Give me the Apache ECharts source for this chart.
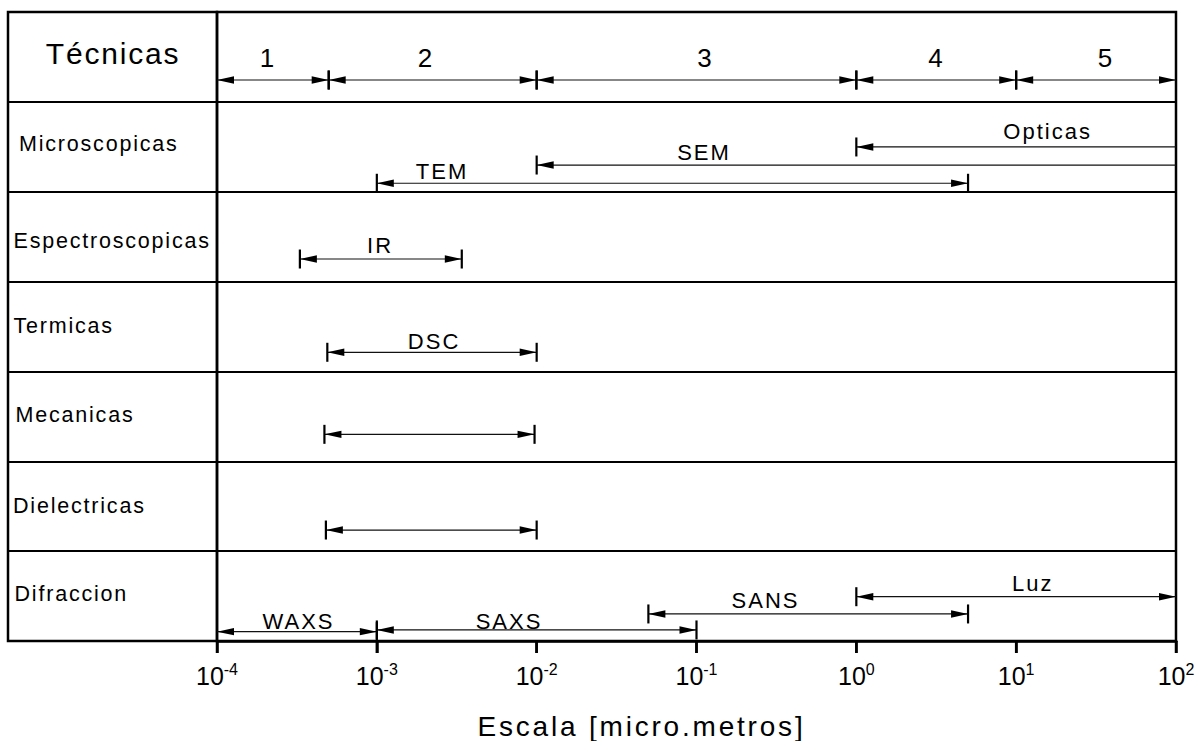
<!DOCTYPE html>
<html><head><meta charset="utf-8">
<script src="https://cdn.jsdelivr.net/npm/echarts@6/dist/echarts.min.js"></script>
<style>html,body{margin:0;padding:0;background:#fff}#main{width:1196px;height:741px}</style>
</head><body><div id="main"></div>
<script>
// ---------------- data ----------------
const headerTitle = 'Técnicas';
const techniques = ['Microscopicas', 'Espectroscopicas', 'Termicas', 'Mecanicas', 'Dielectricas', 'Difraccion'];
const scaleRegions = ['1', '2', '3', '4', '5'];
const regionBounds = [1e-4, 5e-4, 1e-2, 1e0, 1e1, 1e2];
const rangeNames = ['Opticas', 'SEM', 'TEM', 'IR', 'DSC', '', '', 'WAXS', 'SAXS', 'SANS', 'Luz'];
const rangeRow   = [1, 1, 1, 2, 3, 4, 5, 6, 6, 6, 6];
const rangeStart = [1, 1e-2, 1e-3, 3.3e-4, 4.9e-4, 4.7e-4, 4.8e-4, 1e-4, 1e-3, 5e-2, 1];
const rangeEnd   = [1e2, 1e2, 5, 3.4e-3, 1e-2, 9.7e-3, 1e-2, 1e-3, 1e-1, 5, 1e2];
const axisExponents = [-4, -3, -2, -1, 0, 1, 2];
const axisTitle = 'Escala [micro.metros]';

// ---------------- layout / style ----------------
const FONT = '"Liberation Sans", Arial, sans-serif';
const rangeLane = [0.502, 0.703, 0.906, 0.749, 0.787, 0.70, 0.765, 0.896, 0.877, 0.699, 0.507];
const rangeCaps = [['bar','open'],['bar','open'],['bar','bar'],['bar','bar'],['bar','bar'],['bar','bar'],['bar','bar'],['arrow','bar'],['bar','bar'],['bar','bar'],['bar','arrow']];
const labelLogX = [1.197, -0.953, -2.592, -2.98, -2.642, 0, 0, -3.49, -2.173, -0.568, 1.104];
const labelLane = [0.335, 0.569, 0.775, 0.598, 0.667, 0, 0, 0.783, 0.778, 0.544, 0.36];
const headerLane = 0.757;
const regionLabelLogX = [-3.687, -2.699, -0.95, 0.495, 1.556];
const regionLabelLane = 0.517;
const rowLabelX = [11, 5.5, 5.5, 7.5, 5, 6.5];
const rowLabelLane = [0.474, 0.548, 0.494, 0.49, 0.497, 0.477];
const headerTitleX = 105, headerTitleLane = 0.467;
const BAR = 9.5, AL = 17, AW = 3.7;

// build items
const items = [];
scaleRegions.forEach((r, i) => {
  items.push({start: regionBounds[i], end: regionBounds[i + 1], y: headerLane,
    caps: [i === 0 ? 'arrow' : 'bar', i === scaleRegions.length - 1 ? 'arrow' : 'bar'],
    label: r, lx: regionLabelLogX[i], ly: regionLabelLane, fs: 26});
});
rangeNames.forEach((n, i) => {
  items.push({start: rangeStart[i], end: rangeEnd[i], y: rangeRow[i] + rangeLane[i],
    caps: rangeCaps[i], label: n, lx: labelLogX[i], ly: rangeRow[i] + labelLane[i], fs: 22});
});
const rangeData = items.map((it, i) => [it.start, it.end, it.y, i]);
const tickData = axisExponents.map(e => [Math.pow(10, e), 0]);

function addCap(ch, p, kind, dir) {
  if (kind === 'open') return;
  const x = p[0], y = p[1];
  if (kind === 'bar') ch.push({type: 'line', shape: {x1: x, y1: y - BAR, x2: x, y2: y + BAR}, style: {stroke: '#000', lineWidth: 2.2}});
  ch.push({type: 'polygon', shape: {points: [[x, y], [x + dir * AL, y - AW], [x + dir * AL, y + AW]]}, style: {fill: '#000'}});
}
function renderRange(params, api) {
  const it = items[api.value(3)];
  const y = api.value(2);
  const p1 = api.coord([api.value(0), y]);
  const p2 = api.coord([api.value(1), y]);
  const ch = [{type: 'line', shape: {x1: p1[0], y1: p1[1], x2: p2[0], y2: p2[1]}, style: {stroke: '#111', lineWidth: 1.2}}];
  addCap(ch, p1, it.caps[0], 1);
  addCap(ch, p2, it.caps[1], -1);
  if (it.label) {
    const lp = api.coord([Math.pow(10, it.lx), it.ly]);
    ch.push({type: 'text', x: lp[0], y: lp[1], style: {text: it.label, fontSize: it.fs, fontFamily: FONT, fill: '#000', align: 'center', verticalAlign: 'middle'}});
  }
  return {type: 'group', children: ch};
}
function renderTick(params, api) {
  const p0 = api.coord([api.value(0), 0]);
  const p1 = api.coord([api.value(0), 1]);
  return {type: 'line', shape: {x1: p0[0], y1: p0[1] - 1, x2: p1[0], y2: p1[1]}, style: {stroke: '#000', lineWidth: 2.5}};
}

const leftData = techniques.map((t, i) => [rowLabelX[i], i + 1 + rowLabelLane[i], i]);
leftData.push([headerTitleX, headerTitleLane, -1]);
function renderLeft(params, api) {
  const idx = api.value(2);
  const p = api.coord([api.value(0), api.value(1)]);
  if (idx < 0) {
    return {type: 'text', x: p[0], y: p[1], style: {text: headerTitle, fontSize: 30, fontFamily: FONT, fill: '#000', align: 'center', verticalAlign: 'middle'}};
  }
  return {type: 'text', x: p[0], y: p[1], style: {text: techniques[idx], fontSize: 21.5, fontFamily: FONT, fill: '#000', align: 'left', verticalAlign: 'middle'}};
}

const chart = echarts.init(document.getElementById('main'), null, {renderer: 'svg'});
const yAxisBase = {type: 'value', min: 0, max: 7, interval: 1, inverse: true,
  axisLine: {show: false}, axisTick: {show: false}, axisLabel: {show: false},
  splitLine: {show: true, lineStyle: {color: '#000', width: 2.2}}};
chart.setOption({
  animation: false,
  backgroundColor: '#fff',
  grid: [
    {left: 217, right: 20, top: 12, bottom: 100, show: true, borderColor: '#000', borderWidth: 2.5, outerBoundsMode: 'none', containLabel: false},
    {left: 8, width: 209, top: 12, bottom: 100, show: true, borderColor: '#000', borderWidth: 2.5, outerBoundsMode: 'none', containLabel: false},
    {left: 217, right: 20, top: 641, height: 12, show: false, outerBoundsMode: 'none', containLabel: false}
  ],
  xAxis: [
    {type: 'log', logBase: 10, min: 1e-4, max: 1e2, interval: 1, splitNumber: 6, gridIndex: 0,
      position: 'bottom',
      axisLine: {show: true, onZero: false, lineStyle: {color: '#000', width: 2.5}},
      axisTick: {show: true, inside: false, length: 12, lineStyle: {color: '#000', width: 2.5}},
      minorTick: {show: false}, splitLine: {show: false},
      axisLabel: {margin: 20, color: '#000',
        formatter: function (v) {
          const e = Math.round(Math.log10(v));
          if (axisExponents.indexOf(e) < 0) return '';
          return '{m|10}{s|' + e + '}';
        },
        rich: {
          m: {fontSize: 25, lineHeight: 25, fontFamily: FONT, color: '#000', padding: [4, 0, 0, 0]},
          s: {fontSize: 16, lineHeight: 16, fontFamily: FONT, color: '#000', verticalAlign: 'top'}
        }},
      name: axisTitle, nameLocation: 'middle', nameGap: 71,
      nameTextStyle: {fontSize: 28, fontFamily: FONT, color: '#000', padding: [0, 110, 0, 0]}
    },
    {type: 'value', min: 0, max: 209, gridIndex: 1, show: false},
    {type: 'log', logBase: 10, min: 1e-4, max: 1e2, gridIndex: 2, show: false}
  ],
  yAxis: [
    Object.assign({gridIndex: 0}, yAxisBase),
    Object.assign({gridIndex: 1}, yAxisBase),
    {type: 'value', min: 0, max: 1, inverse: true, gridIndex: 2, show: false}
  ],
  series: [
    {type: 'custom', xAxisIndex: 0, yAxisIndex: 0, renderItem: renderRange, data: rangeData,
      encode: {x: [0, 1], y: 2}, clip: false, silent: true},
    {type: 'custom', xAxisIndex: 2, yAxisIndex: 2, renderItem: renderTick, data: tickData,
      encode: {x: 0, y: 1}, clip: false, silent: true},
    {type: 'custom', xAxisIndex: 1, yAxisIndex: 1, renderItem: renderLeft, data: leftData,
      encode: {x: 0, y: 1}, clip: false, silent: true}
  ]
});

const spacing = {};
spacing[headerTitle] = 1.8;
techniques.forEach(t => spacing[t] = 1.8);
rangeNames.forEach(n => { if (n) spacing[n] = 2; });
spacing[axisTitle] = 2.8;
function applySpacing() {
  document.querySelectorAll('#main svg text').forEach(t => {
    const s = spacing[t.textContent];
    if (s != null) t.style.letterSpacing = s + 'px';
  });
}
applySpacing();
chart.on('finished', applySpacing);
</script></body></html>
